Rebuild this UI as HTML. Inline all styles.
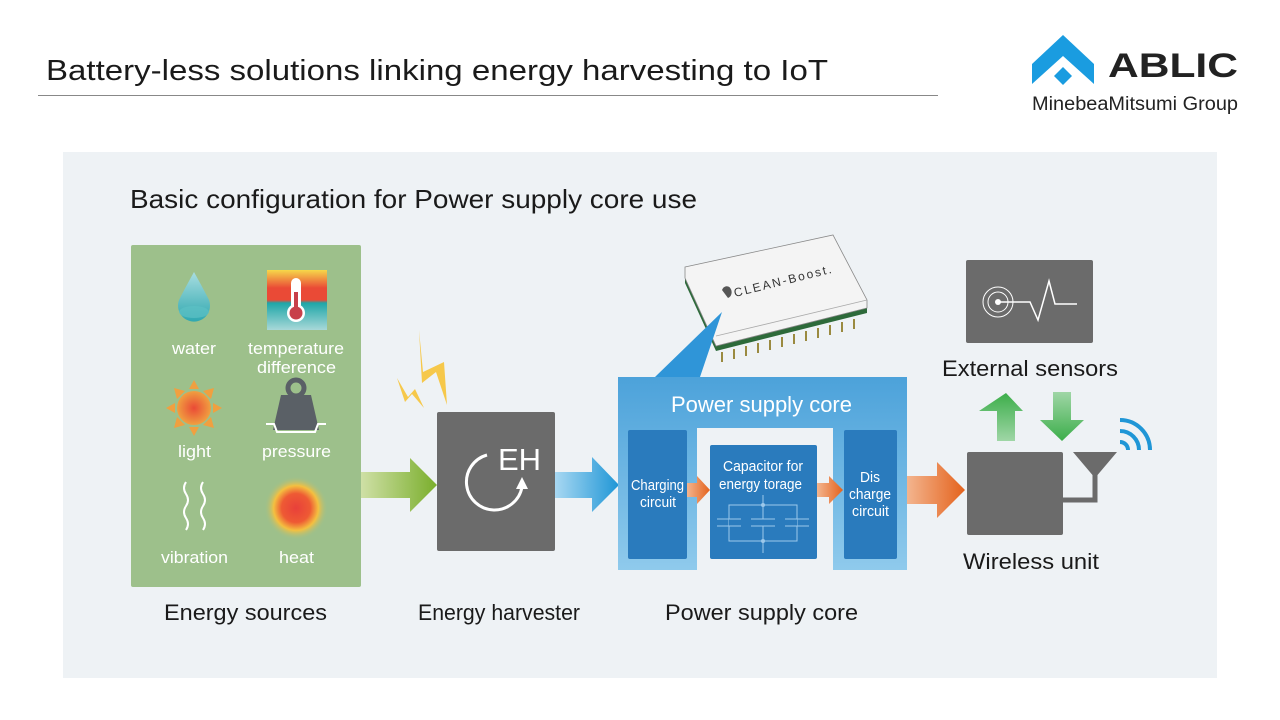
<!DOCTYPE html>
<html><head><meta charset="utf-8"><style>
html,body{margin:0;padding:0;background:#fff;}
svg{display:block;font-family:"Liberation Sans",Arial,sans-serif;}
</style></head><body>
<svg width="1280" height="720" viewBox="0 0 1280 720" xmlns="http://www.w3.org/2000/svg">
<defs>
<linearGradient id="ga" x1="0" x2="1"><stop offset="0" stop-color="#cfe0a6"/><stop offset="1" stop-color="#7aae2c"/></linearGradient>
<linearGradient id="ba" x1="0" x2="1"><stop offset="0" stop-color="#a8d8f2"/><stop offset="1" stop-color="#1f96d6"/></linearGradient>
<linearGradient id="oa" x1="0" x2="1"><stop offset="0" stop-color="#f3b58f"/><stop offset="1" stop-color="#e4621c"/></linearGradient>
<linearGradient id="pc" x1="0" y1="0" x2="0" y2="1"><stop offset="0" stop-color="#4ca2da"/><stop offset="1" stop-color="#8fcaec"/></linearGradient>
<linearGradient id="gu" x1="0" y1="0" x2="0" y2="1"><stop offset="0" stop-color="#3cae4a"/><stop offset="1" stop-color="#9fd6a6"/></linearGradient>
<linearGradient id="gd" x1="0" y1="0" x2="0" y2="1"><stop offset="0" stop-color="#9fd6a6"/><stop offset="1" stop-color="#3cae4a"/></linearGradient>
<linearGradient id="temp" x1="0" y1="0" x2="0" y2="1"><stop offset="0" stop-color="#f6d84a"/><stop offset="0.3" stop-color="#ea4a36"/><stop offset="0.5" stop-color="#ea4a36"/><stop offset="0.55" stop-color="#1ea6a8"/><stop offset="1" stop-color="#a8d8d8"/></linearGradient>
<radialGradient id="sun"><stop offset="0" stop-color="#ea4a36"/><stop offset="1" stop-color="#f0a040"/></radialGradient>
<radialGradient id="heat"><stop offset="0" stop-color="#e8403a"/><stop offset="0.45" stop-color="#ee5a34"/><stop offset="0.7" stop-color="#f4c040"/><stop offset="1" stop-color="#9dc08b" stop-opacity="0"/></radialGradient>
<linearGradient id="drop" x1="0" y1="0" x2="0" y2="1"><stop offset="0" stop-color="#a8dde0"/><stop offset="1" stop-color="#2fa8b0"/></linearGradient>
</defs>
<rect width="1280" height="720" fill="#fff"/>
<text x="46" y="80" font-size="29" fill="#1a1a1a" textLength="782" lengthAdjust="spacingAndGlyphs">Battery-less solutions linking energy harvesting to IoT</text>
<line x1="38" y1="95.5" x2="938" y2="95.5" stroke="#888" stroke-width="1"/>
<!-- logo -->
<polygon points="1032,64 1063,35 1094,64 1094,84 1063,56 1032,84" fill="#1a9ce0"/>
<polygon points="1063,67 1072,76 1063,85 1054,76" fill="#1a9ce0"/>
<text x="1108" y="77" font-size="34" font-weight="bold" fill="#222" textLength="130" lengthAdjust="spacingAndGlyphs">ABLIC</text>
<text x="1032" y="110" font-size="19" fill="#222" textLength="206" lengthAdjust="spacingAndGlyphs">MinebeaMitsumi Group</text>
<!-- panel -->
<rect x="63" y="152" width="1154" height="526" fill="#eef2f5"/>
<text x="130" y="208" font-size="26" fill="#1a1a1a" textLength="567" lengthAdjust="spacingAndGlyphs">Basic configuration for Power supply core use</text>
<!-- energy sources -->
<rect x="131" y="245" width="230" height="342" rx="2" fill="#9dc08b"/>
<path d="M194,272 Q184,290 179,300 A16,16 0 1 0 209,300 Q204,290 194,272Z" fill="url(#drop)"/>
<ellipse cx="194" cy="312" rx="15" ry="6" fill="#5cc0c4" opacity="0.7"/>
<rect x="267" y="270" width="60" height="60" fill="url(#temp)"/>
<rect x="291" y="278" width="10" height="32" rx="5" fill="#fff"/>
<circle cx="296" cy="313" r="9" fill="#fff"/><circle cx="296" cy="313" r="6.5" fill="#c8404a"/><rect x="294" y="292" width="4" height="18" fill="#c8404a"/>
<g fill="#fff" font-size="17">
<text x="172" y="354" textLength="44" lengthAdjust="spacingAndGlyphs">water</text>
<text x="248" y="354" textLength="96" lengthAdjust="spacingAndGlyphs">temperature</text>
<text x="257" y="373" textLength="79" lengthAdjust="spacingAndGlyphs">difference</text>
<text x="178" y="457" textLength="33" lengthAdjust="spacingAndGlyphs">light</text>
<text x="262" y="457" textLength="69" lengthAdjust="spacingAndGlyphs">pressure</text>
<text x="161" y="563" textLength="67" lengthAdjust="spacingAndGlyphs">vibration</text>
<text x="279" y="563" textLength="35" lengthAdjust="spacingAndGlyphs">heat</text>
</g>
<g fill="#f0a040"><polygon points="194,380 189,389 199,389"/><polygon points="194,436 189,427 199,427"/><polygon points="166,408 175,403 175,413"/><polygon points="222,408 213,403 213,413"/><polygon points="174,388 185,391 177,399"/><polygon points="214,388 203,391 211,399"/><polygon points="174,428 185,425 177,417"/><polygon points="214,428 203,425 211,417"/></g>
<circle cx="194" cy="408" r="17" fill="url(#sun)"/>
<path d="M281,395 L311,395 L319,430 L273,430Z" fill="#5a6066"/>
<circle cx="296" cy="388" r="8" fill="none" stroke="#5a6066" stroke-width="5"/>
<path d="M266,424 L274,424 L277,432 L315,432 L318,424 L326,424" fill="none" stroke="#fff" stroke-width="2"/>
<path d="M186,482 q-4,6 0,12 q4,6 0,12 q-4,6 0,12 q4,6 0,12" fill="none" stroke="#fff" stroke-width="2"/>
<path d="M203,482 q-4,6 0,12 q4,6 0,12 q-4,6 0,12 q4,6 0,12" fill="none" stroke="#fff" stroke-width="2"/>
<circle cx="296" cy="508" r="32" fill="url(#heat)"/>
<!-- arrows -->
<polygon points="361,472 410,472 410,458 437,485 410,512 410,498 361,498" fill="url(#ga)"/>
<polygon points="555,472 592,472 592,457 619,485 592,512 592,498 555,498" fill="url(#ba)"/>
<!-- lightning -->
<path d="M419,330 L423,372 L444,362 L447,405 L436,372 L422,383 L419,330Z M397,378 L408,397 L415,389 L424,408 L412,394 L405,402Z" fill="#f6c84a"/>
<!-- EH -->
<rect x="437" y="412" width="118" height="139" rx="2" fill="#6b6b6b"/>
<path d="M487,455 A28,28 0 1 0 522,487" fill="none" stroke="#fff" stroke-width="3"/>
<polygon points="522,477 516,489 528,489" fill="#fff"/>
<text x="498" y="470" font-size="31" fill="#fff">EH</text>
<!-- chip -->
<polygon points="716,338 867,303 867,313 716,351 685,283 685,270" fill="#2d6a3a"/>
<g stroke="#9a8a40" stroke-width="2">
<line x1="722" y1="352" x2="722" y2="362"/><line x1="734" y1="349" x2="734" y2="359"/><line x1="746" y1="346" x2="746" y2="356"/><line x1="758" y1="343" x2="758" y2="353"/><line x1="770" y1="340" x2="770" y2="350"/><line x1="782" y1="337" x2="782" y2="347"/><line x1="794" y1="334" x2="794" y2="344"/><line x1="806" y1="331" x2="806" y2="341"/><line x1="818" y1="328" x2="818" y2="338"/><line x1="830" y1="325" x2="830" y2="335"/><line x1="842" y1="322" x2="842" y2="332"/><line x1="854" y1="319" x2="854" y2="329"/></g>
<polygon points="685,267 833,235 867,300 867,308 716,346 685,278" fill="#f4f4f4" stroke="#888" stroke-width="0.8"/>
<line x1="716" y1="336" x2="867" y2="300" stroke="#aaa" stroke-width="0.8"/>
<text x="0" y="0" font-size="12" fill="#333" letter-spacing="2" transform="translate(735,297) rotate(-14)">CLEAN-Boost.</text>
<path d="M722,290 a5,6 0 1 1 6,8 z" fill="#555"/>
<polygon points="722,312 655,377 700,377" fill="#2f95d8"/>
<!-- power supply core -->
<path d="M618,377 H907 V570 H833 V428 H697 V570 H618Z" fill="url(#pc)"/>
<text x="671" y="412" font-size="22" fill="#fff" textLength="181" lengthAdjust="spacingAndGlyphs">Power supply core</text>
<rect x="628" y="430" width="59" height="129" rx="2" fill="#2a7bbd"/>
<rect x="710" y="445" width="107" height="114" rx="2" fill="#2a7bbd"/>
<rect x="844" y="430" width="53" height="129" rx="2" fill="#2a7bbd"/>
<g fill="#fff" font-size="15">
<text x="631" y="490" textLength="53" lengthAdjust="spacingAndGlyphs">Charging</text><text x="640" y="507" textLength="36" lengthAdjust="spacingAndGlyphs">circuit</text>
<text x="723" y="471" textLength="80" lengthAdjust="spacingAndGlyphs">Capacitor for</text><text x="719" y="489" textLength="83" lengthAdjust="spacingAndGlyphs">energy torage</text>
<text x="860" y="482" textLength="20" lengthAdjust="spacingAndGlyphs">Dis</text><text x="849" y="499" textLength="42" lengthAdjust="spacingAndGlyphs">charge</text><text x="852" y="516" textLength="37" lengthAdjust="spacingAndGlyphs">circuit</text>
</g>
<g stroke="#9cc8ea" stroke-width="1" fill="none">
<line x1="763" y1="495" x2="763" y2="553"/>
<rect x="729" y="505" width="68" height="36"/>
</g>
<rect x="729" y="519" width="68" height="7" fill="#2a7bbd"/>
<g stroke="#9cc8ea" stroke-width="1"><line x1="717" y1="519" x2="741" y2="519"/><line x1="717" y1="526" x2="741" y2="526"/><line x1="751" y1="519" x2="775" y2="519"/><line x1="751" y1="526" x2="775" y2="526"/><line x1="785" y1="519" x2="809" y2="519"/><line x1="785" y1="526" x2="809" y2="526"/></g>
<circle cx="763" cy="505" r="2" fill="#9cc8ea"/><circle cx="763" cy="541" r="2" fill="#9cc8ea"/>
<polygon points="687,483 697,483 697,476 710,490 697,504 697,497 687,497" fill="url(#oa)"/>
<polygon points="817,483 829,483 829,476 843,490 829,504 829,497 817,497" fill="url(#oa)"/>
<polygon points="907,476 937,476 937,462 965,490 937,518 937,504 907,504" fill="url(#oa)"/>
<!-- wireless -->
<rect x="967" y="452" width="96" height="83" rx="2" fill="#6b6b6b"/>
<polygon points="1073,452 1117,452 1095,478" fill="#6b6b6b"/>
<path d="M1063,500 H1095 V474" fill="none" stroke="#6b6b6b" stroke-width="5"/>
<g fill="none" stroke="#1f96d6" stroke-width="4">
<path d="M1128,450 a8,8 0 0 0 -8,-8"/>
<path d="M1139,450 a19,19 0 0 0 -19,-19"/>
<path d="M1150,450 a30,30 0 0 0 -30,-30"/>
</g>
<text x="963" y="569" font-size="22" fill="#1a1a1a" textLength="136" lengthAdjust="spacingAndGlyphs">Wireless unit</text>
<!-- sensors -->
<rect x="966" y="260" width="127" height="83" rx="2" fill="#6b6b6b"/>
<circle cx="998" cy="302" r="15" fill="none" stroke="#fff" stroke-width="1"/>
<circle cx="998" cy="302" r="10" fill="none" stroke="#fff" stroke-width="1"/>
<circle cx="998" cy="302" r="3" fill="#fff"/>
<polyline points="998,302 1030,302 1038,320 1049,281 1055,304 1077,304" fill="none" stroke="#fff" stroke-width="1.5"/>
<text x="942" y="376" font-size="22" fill="#1a1a1a" textLength="176" lengthAdjust="spacingAndGlyphs">External sensors</text>
<polygon points="1006,393 1023,411 1015,411 1015,441 997,441 997,411 979,411" fill="url(#gu)"/>
<polygon points="1053,392 1071,392 1071,420 1084,420 1062,441 1040,420 1053,420" fill="url(#gd)"/>
<!-- bottom labels -->
<g font-size="22" fill="#1a1a1a">
<text x="164" y="620" textLength="163" lengthAdjust="spacingAndGlyphs">Energy sources</text>
<text x="418" y="620" textLength="162" lengthAdjust="spacingAndGlyphs">Energy harvester</text>
<text x="665" y="620" textLength="193" lengthAdjust="spacingAndGlyphs">Power supply core</text>
</g>
</svg>
</body></html>
